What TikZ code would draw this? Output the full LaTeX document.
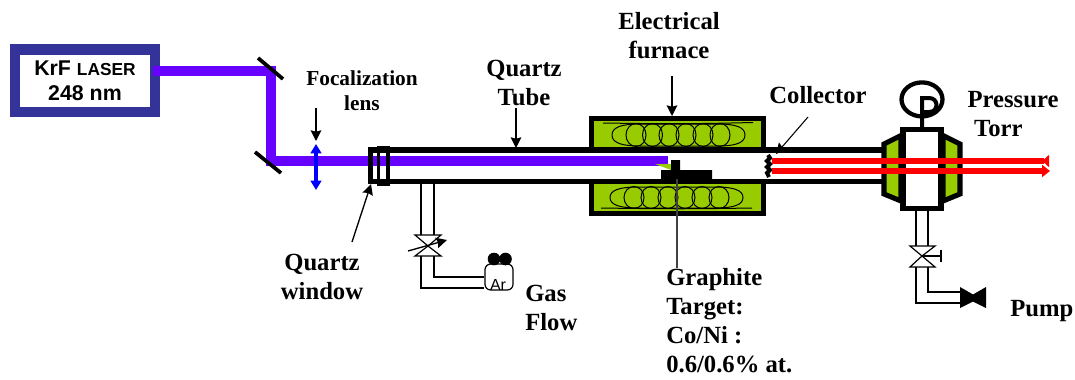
\documentclass[tikz,border=0pt]{standalone}
\usepackage{fontspec}
\setmainfont{Liberation Serif}
\setsansfont{Liberation Sans}
\usetikzlibrary{arrows.meta,positioning,shapes.geometric}
\definecolor{laserblue}{RGB}{51, 51, 153}
\definecolor{beamviolet}{RGB}{102, 0, 255}
\definecolor{lensblue}{RGB}{0, 0, 255}
\definecolor{heater}{RGB}{153, 204, 0}
\tikzstyle{label} = [
    inner sep=0pt,
    align=center,
    font=\fontsize{18.5}{21.8}\selectfont\bfseries
]
\tikzstyle{arrow} = [
    line width=1pt,
    -{Stealth[length=8pt,width=8pt,inset=1pt]},
    draw=black
]
\tikzstyle{beam} = [
    line width=8.2pt,
    draw=beamviolet
]
\tikzstyle{redbeam} = [
    line width=3.8pt,
    draw=red
]
\tikzstyle{wall} = [
    line width=4pt,
    draw=black
]
\tikzstyle{pipe} = [
    line width=0.9pt,
    draw=black
]
\tikzstyle{mirror} = [
    line width=2.8pt,
    draw=black
]
\tikzstyle{coil} = [
    line width=0.75pt,
    draw=black
]
\tikzstyle{oven} = [
    rectangle,
    line width=4pt,
    draw=black,
    fill=heater,
    minimum width=129pt,
    minimum height=23.8pt,
    inner sep=0pt
]
\begin{document}
\begin{tikzpicture}[x=0.75pt,y=-0.75pt]
    \useasboundingbox (0,0) rectangle (1075,379);
    % laser and beam
    \node[rectangle,draw=laserblue,line width=7.8pt,minimum width=105pt,minimum height=46.8pt,inner sep=0pt,align=center,
        font=\sffamily\bfseries\fontsize{16}{19}\selectfont] (laser) at (85,80.5)
        {KrF {\fontsize{13}{19}\selectfont LASER}\\248 nm};
    \coordinate (turnA) at (271,71);
    \coordinate (turnB) at (271,161);
    \coordinate (beamend) at (668,161);
    \draw[beam,line join=miter] (153,71) -- (turnA) -- (turnB) -- (beamend);
    \draw[mirror] (258,58) -- (283,79);
    \draw[mirror] (255,152) -- (281,173);
    % lens
    \coordinate (lenstop) at (316,144);
    \coordinate (lensbot) at (316,190);
    \draw[line width=3pt,draw=lensblue,{Stealth[length=7pt,width=8pt,inset=0pt]}-{Stealth[length=7pt,width=8pt,inset=0pt]}] (lenstop) -- (lensbot);
    \node[label,font=\fontsize{16}{19}\selectfont\bfseries] (focal) at (362,91) {Focalization\\lens};
    \coordinate (focalfrom) at (316,108);
    \draw[arrow] (focalfrom) -- (316,141);
    % quartz tube
    \draw[wall] (368,150) -- (882,150);
    \draw[wall] (368,181.5) -- (882,181.5);
    \draw[line width=3.6pt] (370.5,150) rectangle (388,182);
    \draw[line width=2.4pt] (378.5,148) rectangle (388.5,184);
    \node[label] (tubelabel) at (524,83) {Quartz\\Tube};
    \coordinate (tubefrom) at (516,108);
    \draw[arrow] (tubefrom) -- (516,148);
    \node[label] (window) at (322,277) {Quartz\\window};
    \coordinate (windowfrom) at (352,242);
    \draw[arrow] (windowfrom) -- (371,184);
    % gas line
    \coordinate (gasvalve) at (428,246);
    \node[rectangle,draw=black,rounded corners=1.5mm,line width=0.9pt,minimum width=21pt,minimum height=19.5pt,inner sep=0pt] (bottle) at (499,277) {};
    \node[inner sep=0pt,font=\sffamily\fontsize{12}{14}\selectfont] (gasname) at (498,285) {Ar};
    \fill (494,259) circle (6.3);
    \fill (505.5,259) circle (6.3);
    \draw[pipe] (421,184) -- (421,235);
    \draw[pipe] (434,184) -- (434,235);
    \draw[pipe] (415,235) -- (441,235) -- (gasvalve) -- cycle;
    \draw[pipe] (415,256) -- (441,256) -- (gasvalve) -- cycle;
    \draw[pipe] (421,256) |- (bottle.south west |- 0,288);
    \draw[pipe] (434,256) |- (bottle.west |- 0,277);
    \draw[arrow] (408,251) -- (447,240);
    \node[label,align=left,anchor=west] (gasflow) at (525,307.5) {Gas\\Flow};
    % furnace
    \node[oven] (ovenA) at (677.5,134.2) {};
    \node[oven] (ovenB) at (677.5,197.5) {};
    \foreach \cx in {636,652.5,669,686,703,720}
        \draw[coil] (\cx,135) ellipse (10 and 11.5);
    \foreach \cx in {634,651,668,685,702,719}
        \draw[coil] (\cx,197.5) ellipse (10 and 11);
    \draw[coil] (612,135) .. controls (612,127) and (622,124) .. (640,124) -- (718,124) .. controls (735,124) and (745,127) .. (745,135) .. controls (745,143) and (735,146) .. (718,146) -- (640,146) .. controls (622,146) and (612,143) .. (612,135);
    \draw[coil] (610,197.5) .. controls (610,190) and (620,187) .. (638,187) -- (716,187) .. controls (733,187) and (743,190) .. (743,197.5) .. controls (743,205) and (733,208) .. (716,208) -- (638,208) .. controls (620,208) and (610,205) .. (610,197.5);
    \draw[coil] (603,123) .. controls (670,124) and (690,124) .. (753,122.5);
    \draw[coil] (601,208) .. controls (670,209) and (690,209) .. (752,208);
    \node[label] (furnace) at (669,36) {Electrical\\furnace};
    \coordinate (furnacefrom) at (672,76);
    \draw[arrow] (furnacefrom) -- (672,116);
    % target
    \fill[heater] (655,164) -- (671,164) -- (671,170) -- cycle;
    \fill (661,179) -- (661,170) -- (671,170) -- (671,160) -- (680,160) -- (680,170) -- (712,170) -- (712,179) -- cycle;
    \node[label,align=left,anchor=north west] (target) at (666,268)
        {Graphite\\Target:\\Co/Ni :\\0.6/0.6\% at.};
    \draw[line width=0.9pt,draw=black!75] (677,179) -- (target.north -| 677,0);
    % collector
    \draw[line width=3pt] (768,155) -- (770,158) -- (767,161) -- (770,164) -- (767,167) -- (770,170) -- (767,173) -- (769,177);
    \node[label] (collector) at (818,95) {Collector};
    \coordinate (collectorfrom) at (808,117);
    \draw[arrow,line width=0.8pt] (collectorfrom) -- (776,154);
    % pressure chamber
    \draw[line width=3.8pt,fill=heater,line join=miter] (901,135.5) -- (884,144) -- (884,194) -- (901,201) -- cycle;
    \draw[line width=3.8pt,fill=heater,line join=miter] (943,135.5) -- (960,144) -- (960,194) -- (943,201) -- cycle;
    \node[rectangle,draw=black,fill=white,line width=3.8pt,minimum width=28.5pt,minimum height=59pt,inner sep=0pt] (chamber) at (922,168.7) {};
    % gauge
    \node[ellipse,draw=black,line width=3.2pt,minimum width=30.75pt,minimum height=25.5pt,inner sep=0pt] (gauge) at (922,99.4) {};
    \draw[line width=3pt] (chamber.north) -- (922,98) -- (929,98) .. controls (939,98) and (939,112) .. (929,112) -- (922,112);
    % red lines
    \coordinate (redA) at (772,161);
    \coordinate (redB) at (772,171);
    \draw[redbeam,-{Triangle[reversed,length=5pt,width=9pt]}] (redA) -- (1049,161);
    \draw[redbeam,-{Triangle[length=6pt,width=9pt]}] (redB) -- (1050,171);
    \node[label] (pressure) at (1013,100) {Pressure};
    \node[label,below=9pt of pressure.south,anchor=north,xshift=-11pt] (torr) {Torr};
    % pump line
    \coordinate (pumpvalve) at (922,256);
    \draw[pipe] (916,210) -- (916,246);
    \draw[pipe] (928,210) -- (928,246);
    \draw[pipe] (910,246) -- (935,246) -- (pumpvalve) -- cycle;
    \draw[pipe] (910,267) -- (935,267) -- (pumpvalve) -- cycle;
    \draw[pipe] (pumpvalve) -- (941,256);
    \draw[pipe] (941,250) -- (941,262);
    \draw[pipe] (916,267) |- (960,303);
    \draw[pipe] (928,267) |- (960,292);
    \fill (960,287) -- (973,294.5) -- (986,287) -- (986,308) -- (973,301.5) -- (960,308) -- cycle;
    \node[label,anchor=west] (pumplabel) at (1010,311) {Pump};
\end{tikzpicture}
\end{document}
